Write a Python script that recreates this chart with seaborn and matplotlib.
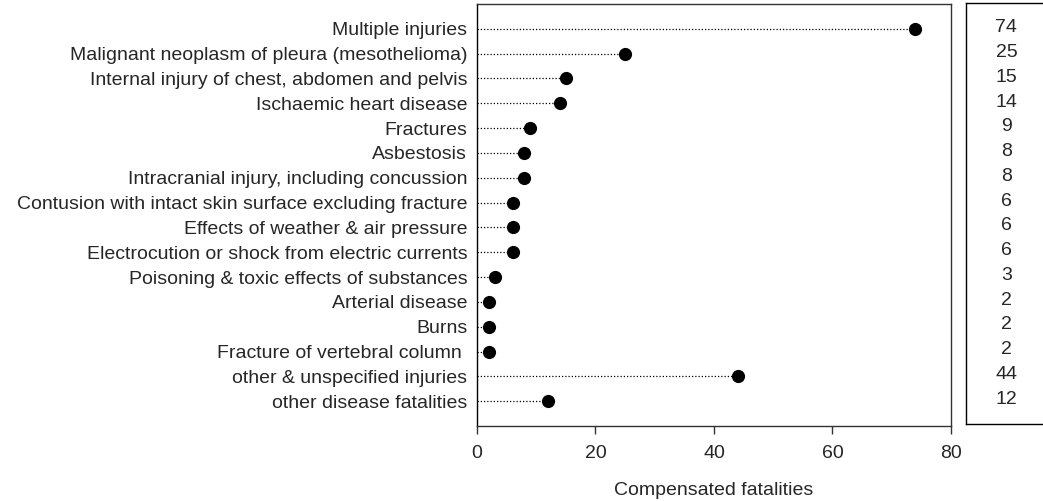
import numpy as np
import pandas as pd
import matplotlib
matplotlib.use("Agg")
import matplotlib.pyplot as plt
import seaborn as sns

# Data
causes = [
    "Multiple injuries",
    "Malignant neoplasm of pleura (mesothelioma)",
    "Internal injury of chest, abdomen and pelvis",
    "Ischaemic heart disease",
    "Fractures",
    "Asbestosis",
    "Intracranial injury, including concussion",
    "Contusion with intact skin surface excluding fracture",
    "Effects of weather & air pressure",
    "Electrocution or shock from electric currents",
    "Poisoning & toxic effects of substances",
    "Arterial disease",
    "Burns",
    "Fracture of vertebral column ",
    "other & unspecified injuries",
    "other disease fatalities",
]
fatalities = [74, 25, 15, 14, 9, 8, 8, 6, 6, 6, 3, 2, 2, 2, 44, 12]
x_ticks = [0, 20, 40, 60, 80]

df = pd.DataFrame({"cause": causes, "fatalities": fatalities})
df["row"] = np.arange(len(df))

sns.set_style("white")
plt.rcParams["font.family"] = ["Liberation Sans", "DejaVu Sans"]
fs = 14

fig = plt.figure(figsize=(10.43, 5.01), dpi=100)
ax = fig.add_axes([0.4573, 0.1497, 0.4545, 0.8423])
box = fig.add_axes([0.9262, 0.1537, 0.09, 0.8403])

# dotted leader lines then the dots
ax.hlines(df["row"], 0, df["fatalities"], colors="black", linestyles=(0, (1, 1.6)), linewidth=0.9)
sns.scatterplot(data=df, x="fatalities", y="row", ax=ax, color="black", s=90,
                edgecolor="black", linewidth=0, zorder=3, legend=False)

ax.set_xlim(0, 80)
ax.set_ylim(len(df), -1)
ax.set_xticks(x_ticks)
ax.set_yticks(df["row"])
ax.set_yticklabels(df["cause"], fontsize=fs)
ax.tick_params(axis="y", length=0, pad=7)
ax.tick_params(axis="x", direction="out", length=6, width=1, color="#333333", pad=8, labelsize=fs)
ax.tick_params(axis="x", bottom=True)
ax.set_xlabel("Compensated fatalities", fontsize=fs, labelpad=14)
ax.set_ylabel("")
for s in ax.spines.values():
    s.set_color("#333333")
    s.set_linewidth(1)
ax.spines["left"].set_color("black")

# value box on the right
box.set_xlim(0, 1)
box.set_ylim(len(df), -1)
box.set_xticks([])
box.set_yticks([])
for r, v in zip(df["row"], df["fatalities"]):
    box.text(0.43, r, str(v), ha="center", va="center", fontsize=fs)
for s in box.spines.values():
    s.set_color("black")
    s.set_linewidth(1)

fig.savefig("out.png", dpi=100)
